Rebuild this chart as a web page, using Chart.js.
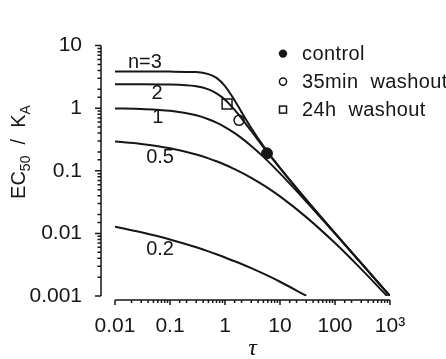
<!DOCTYPE html>
<html>
<head>
<meta charset="utf-8">
<script src="https://cdn.jsdelivr.net/npm/chart.js@4.4.1/dist/chart.umd.min.js"></script>
<style>
  html, body { margin: 0; padding: 0; background: #fff; }
  #wrap { width: 446px; height: 359px; }
</style>
</head>
<body>
<div id="wrap"><canvas id="ecChart"></canvas></div>
<script>
// tau values the curves were read at
const tau = [0.01, 0.03, 0.1, 0.3, 0.5, 0.7, 1, 1.5, 2, 3, 5, 10, 30, 100, 300, 1000];

// EC50/KA (n = slope factor)
const ecN3  = [3.85, 3.85, 3.84, 3.77, 3.50, 3.05, 2.26, 1.33, 0.866, 0.483, 0.248, 0.111, 0.0345, 0.0101, 0.00334, 0.0010];
const ecN2  = [2.41, 2.41, 2.39, 2.24, 2.00, 1.73, 1.37, 0.942, 0.690, 0.432, 0.238, 0.110, 0.0344, 0.0101, 0.00334, 0.0010];
const ecN1  = [0.99, 0.971, 0.909, 0.769, 0.667, 0.588, 0.50, 0.40, 0.333, 0.25, 0.167, 0.0909, 0.0323, 0.0099, 0.00332, 0.0010];
const ecN05 = [0.293, 0.269, 0.229, 0.182, 0.158, 0.142, 0.125, 0.106, 0.0938, 0.0774, 0.059, 0.039, 0.0182, 0.0070, 0.00269, 0.00089];
const ecN02 = [0.0128, 0.0104, 0.0080, 0.0060, 0.00516, 0.00464, 0.00413, 0.00359, 0.00324, 0.00278, 0.00227, 0.00169, 0.00101, null, null, null];
const curveNames = ['n=3', '2', '1', '0.5', '0.2'];

// measured points
const controlTau = [5.8],  controlEc = [0.19];
const wash35Tau  = [1.8],  wash35Ec  = [0.64];
const wash24Tau  = [1.09], wash24Ec  = [1.17];
const legendNames = ['control', '35min  washout', '24h  washout'];

// axis ticks
const xTickValues = [0.01, 0.1, 1, 10, 100, 1000];
const xTickLabels = ['0.01', '0.1', '1', '10', '100', '10³'];
const yTickValues = [0.001, 0.01, 0.1, 1, 10];
const yTickLabels = ['0.001', '0.01', '0.1', '1', '10'];

const FONT = "'Liberation Sans', Arial, Helvetica, sans-serif";
const INK = '#161616';

const toXY = (xs, ys) => xs.map((x, i) => ({ x: x, y: ys[i] }));
const sameLog = (a, b) => Math.abs(Math.log10(a) - Math.log10(b)) < 1e-6;
const isDecade = v => Math.abs(Math.log10(v) - Math.round(Math.log10(v))) < 1e-6;

function curve(ys) {
  return {
    data: toXY(tau, ys),
    borderColor: INK,
    borderWidth: 2,
    pointRadius: 0,
    cubicInterpolationMode: 'monotone',
    spanGaps: false
  };
}

const datasets = [ecN3, ecN2, ecN1, ecN05, ecN02].map(curve);
datasets.push(
  { data: toXY(wash24Tau, wash24Ec), showLine: false, pointStyle: 'rect', pointRadius: 7,
    pointBackgroundColor: '#fff', pointBorderColor: INK, pointBorderWidth: 1.5 },
  { data: toXY(wash35Tau, wash35Ec), showLine: false, pointStyle: 'circle', pointRadius: 5,
    pointBackgroundColor: '#fff', pointBorderColor: INK, pointBorderWidth: 1.5 },
  { data: toXY(controlTau, controlEc), showLine: false, pointStyle: 'circle', pointRadius: 5.5,
    pointBackgroundColor: INK, pointBorderColor: INK, pointBorderWidth: 1 }
);

// detached axes, curve names, y title and the legend
const decorations = {
  id: 'decorations',
  afterDraw(chart) {
    const { ctx, chartArea: a, scales: { x, y } } = chart;
    ctx.save();
    ctx.strokeStyle = INK;
    ctx.lineWidth = 1.5;

    const yAxisX = a.left - 14;
    const xAxisY = a.bottom + 4;
    ctx.beginPath();
    ctx.moveTo(yAxisX, a.top);
    ctx.lineTo(yAxisX, a.bottom);
    y.ticks.forEach(t => {
      const py = y.getPixelForValue(t.value);
      ctx.moveTo(yAxisX - (isDecade(t.value) ? 6 : 3.5), py);
      ctx.lineTo(yAxisX, py);
    });
    ctx.moveTo(a.left, xAxisY);
    ctx.lineTo(a.right, xAxisY);
    x.ticks.forEach(t => {
      const px = x.getPixelForValue(t.value);
      ctx.moveTo(px, xAxisY);
      ctx.lineTo(px, xAxisY + (isDecade(t.value) ? 5 : 3));
    });
    ctx.stroke();

    // curve names
    ctx.fillStyle = INK;
    ctx.font = '20px ' + FONT;
    ctx.textAlign = 'center';
    ctx.textBaseline = 'middle';
    const spots = [[0.035, 5.3], [0.058, 1.69], [0.06, 0.71], [0.066, 0.163], [0.066, 0.0055]];
    curveNames.forEach((name, i) => {
      ctx.fillText(name, x.getPixelForValue(spots[i][0]), y.getPixelForValue(spots[i][1]));
    });

    // y title: EC50 / KA with subscripts
    const parts = [['EC', 20, 0], ['50', 14, 5], ['  /  ', 20, 0], ['K', 20, 0], ['A', 14, 5]];
    ctx.translate(18, 152);
    ctx.rotate(-Math.PI / 2);
    ctx.textAlign = 'left';
    ctx.textBaseline = 'alphabetic';
    let total = 0;
    parts.forEach(p => { ctx.font = p[1] + 'px ' + FONT; total += ctx.measureText(p[0]).width; });
    let cx = -total / 2;
    parts.forEach(p => {
      ctx.font = p[1] + 'px ' + FONT;
      ctx.fillText(p[0], cx, 7 + p[2]);
      cx += ctx.measureText(p[0]).width;
    });
    ctx.setTransform(1, 0, 0, 1, 0, 0);

    // legend
    const lx = a.right - 107, tx = a.right - 88;
    const rows = [a.top + 8, a.top + 36, a.top + 64];
    ctx.font = '20px ' + FONT;
    ctx.letterSpacing = '0.4px';
    ctx.textAlign = 'left';
    ctx.textBaseline = 'middle';
    ctx.lineWidth = 1.5;
    ctx.beginPath();
    ctx.arc(lx, rows[0], 4.2, 0, Math.PI * 2);
    ctx.fill();
    ctx.beginPath();
    ctx.arc(lx, rows[1], 3.6, 0, Math.PI * 2);
    ctx.stroke();
    ctx.strokeRect(lx - 3.5, rows[2] - 3.5, 7, 7);
    legendNames.forEach((name, i) => ctx.fillText(name, tx, rows[i] + 1));
    ctx.letterSpacing = '0px';
    ctx.restore();
  }
};

new Chart(document.getElementById('ecChart'), {
  type: 'line',
  data: { datasets: datasets },
  options: {
    responsive: true,
    maintainAspectRatio: false,
    animation: false,
    layout: { padding: { top: 21, right: 56, left: 0, bottom: 0 } },
    plugins: { legend: { display: false }, tooltip: { enabled: false } },
    scales: {
      x: {
        type: 'logarithmic',
        min: 0.01,
        max: 1000,
        grid: { display: false, drawTicks: false },
        border: { display: false },
        ticks: {
          autoSkip: false,
          maxRotation: 0,
          padding: 18,
          color: INK,
          font: { family: FONT, size: 21 },
          callback: v => {
            const i = xTickValues.findIndex(t => sameLog(t, v));
            return i >= 0 ? xTickLabels[i] : '';
          }
        },
        title: {
          display: true,
          text: 'τ',
          color: INK,
          font: { family: "'Liberation Serif', 'Times New Roman', serif", size: 24, style: 'italic', lineHeight: 1 },
          padding: { top: 0, bottom: -2 }
        },
        afterFit: s => { s.height = 63; }
      },
      y: {
        type: 'logarithmic',
        min: 0.001,
        max: 10,
        grid: { display: false, drawTicks: false },
        border: { display: false },
        ticks: {
          autoSkip: false,
          padding: 33,
          color: INK,
          font: { family: FONT, size: 21 },
          callback: v => {
            const i = yTickValues.findIndex(t => sameLog(t, v));
            return i >= 0 ? yTickLabels[i] : '';
          }
        },
        afterFit: s => { s.width = 115; }
      }
    }
  },
  plugins: [decorations]
});
</script>
</body>
</html>
